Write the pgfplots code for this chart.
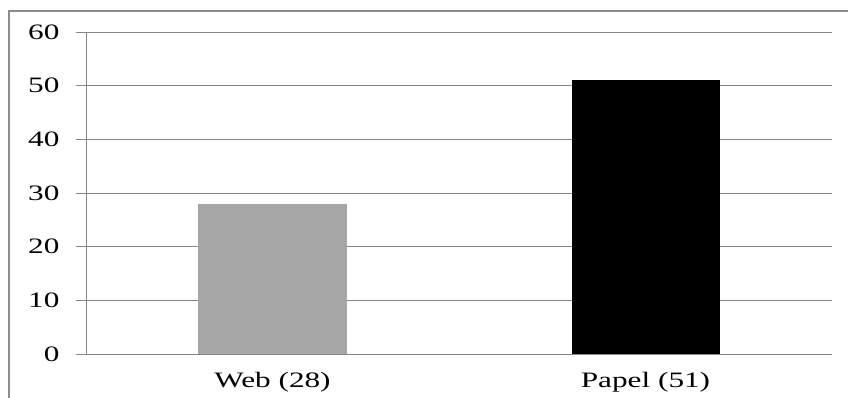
\documentclass[border=0pt]{standalone}
\usepackage{pgfplots}
\pgfplotsset{compat=1.18}
\usepackage{fontspec}
\setmainfont{Liberation Serif}
\newfontfamily\labelfont[FakeStretch=1.42]{Liberation Serif}
\definecolor{gridgray}{HTML}{868686}
\definecolor{framegray}{HTML}{8C8C8C}
\definecolor{webgray}{HTML}{A6A6A6}
\begin{document}
\begin{tikzpicture}
\useasboundingbox (-86bp,-44bp) rectangle (762bp,354bp);
\begin{axis}[
  at={(0,0)}, anchor=south west,
  scale only axis, width=746bp, height=322bp,
  xmin=-0.5, xmax=1.5, ymin=0, ymax=60,
  ytick={0,10,...,60},
  xtick={0,1}, xticklabels={Web (28), Papel (51)},
  extra x ticks={-0.5,0.5,1.5}, extra x tick labels={},
  extra x tick style={major tick length=6bp, tick style={gridgray, line width=0.8bp}},
  major x tick style={draw=none},
  axis x line*=bottom, axis y line*=left,
  axis line style={gridgray, line width=0.8bp, -},
  ymajorgrids, grid style={gridgray, line width=0.8bp},
  tick align=outside, major tick length=10bp,
  y tick style={gridgray, line width=0.8bp},
  tick label style={font=\labelfont\fontsize{22bp}{24bp}\selectfont},
  /pgf/number format/assume math mode=true,
  yticklabel style={anchor=east, xshift=-13bp},
  xticklabel style={anchor=north, yshift=-5bp},
  ybar, bar width=148bp, bar shift=0pt,
  clip=false,
]
\addplot[fill=webgray, draw=none] coordinates {(0,28)};
\addplot[fill=black, draw=none] coordinates {(1,51)};
\end{axis}
\draw[framegray, line width=2bp] (770bp,343bp) -- (-77bp,343bp) -- (-77bp,-50bp);
\end{tikzpicture}
\end{document}
